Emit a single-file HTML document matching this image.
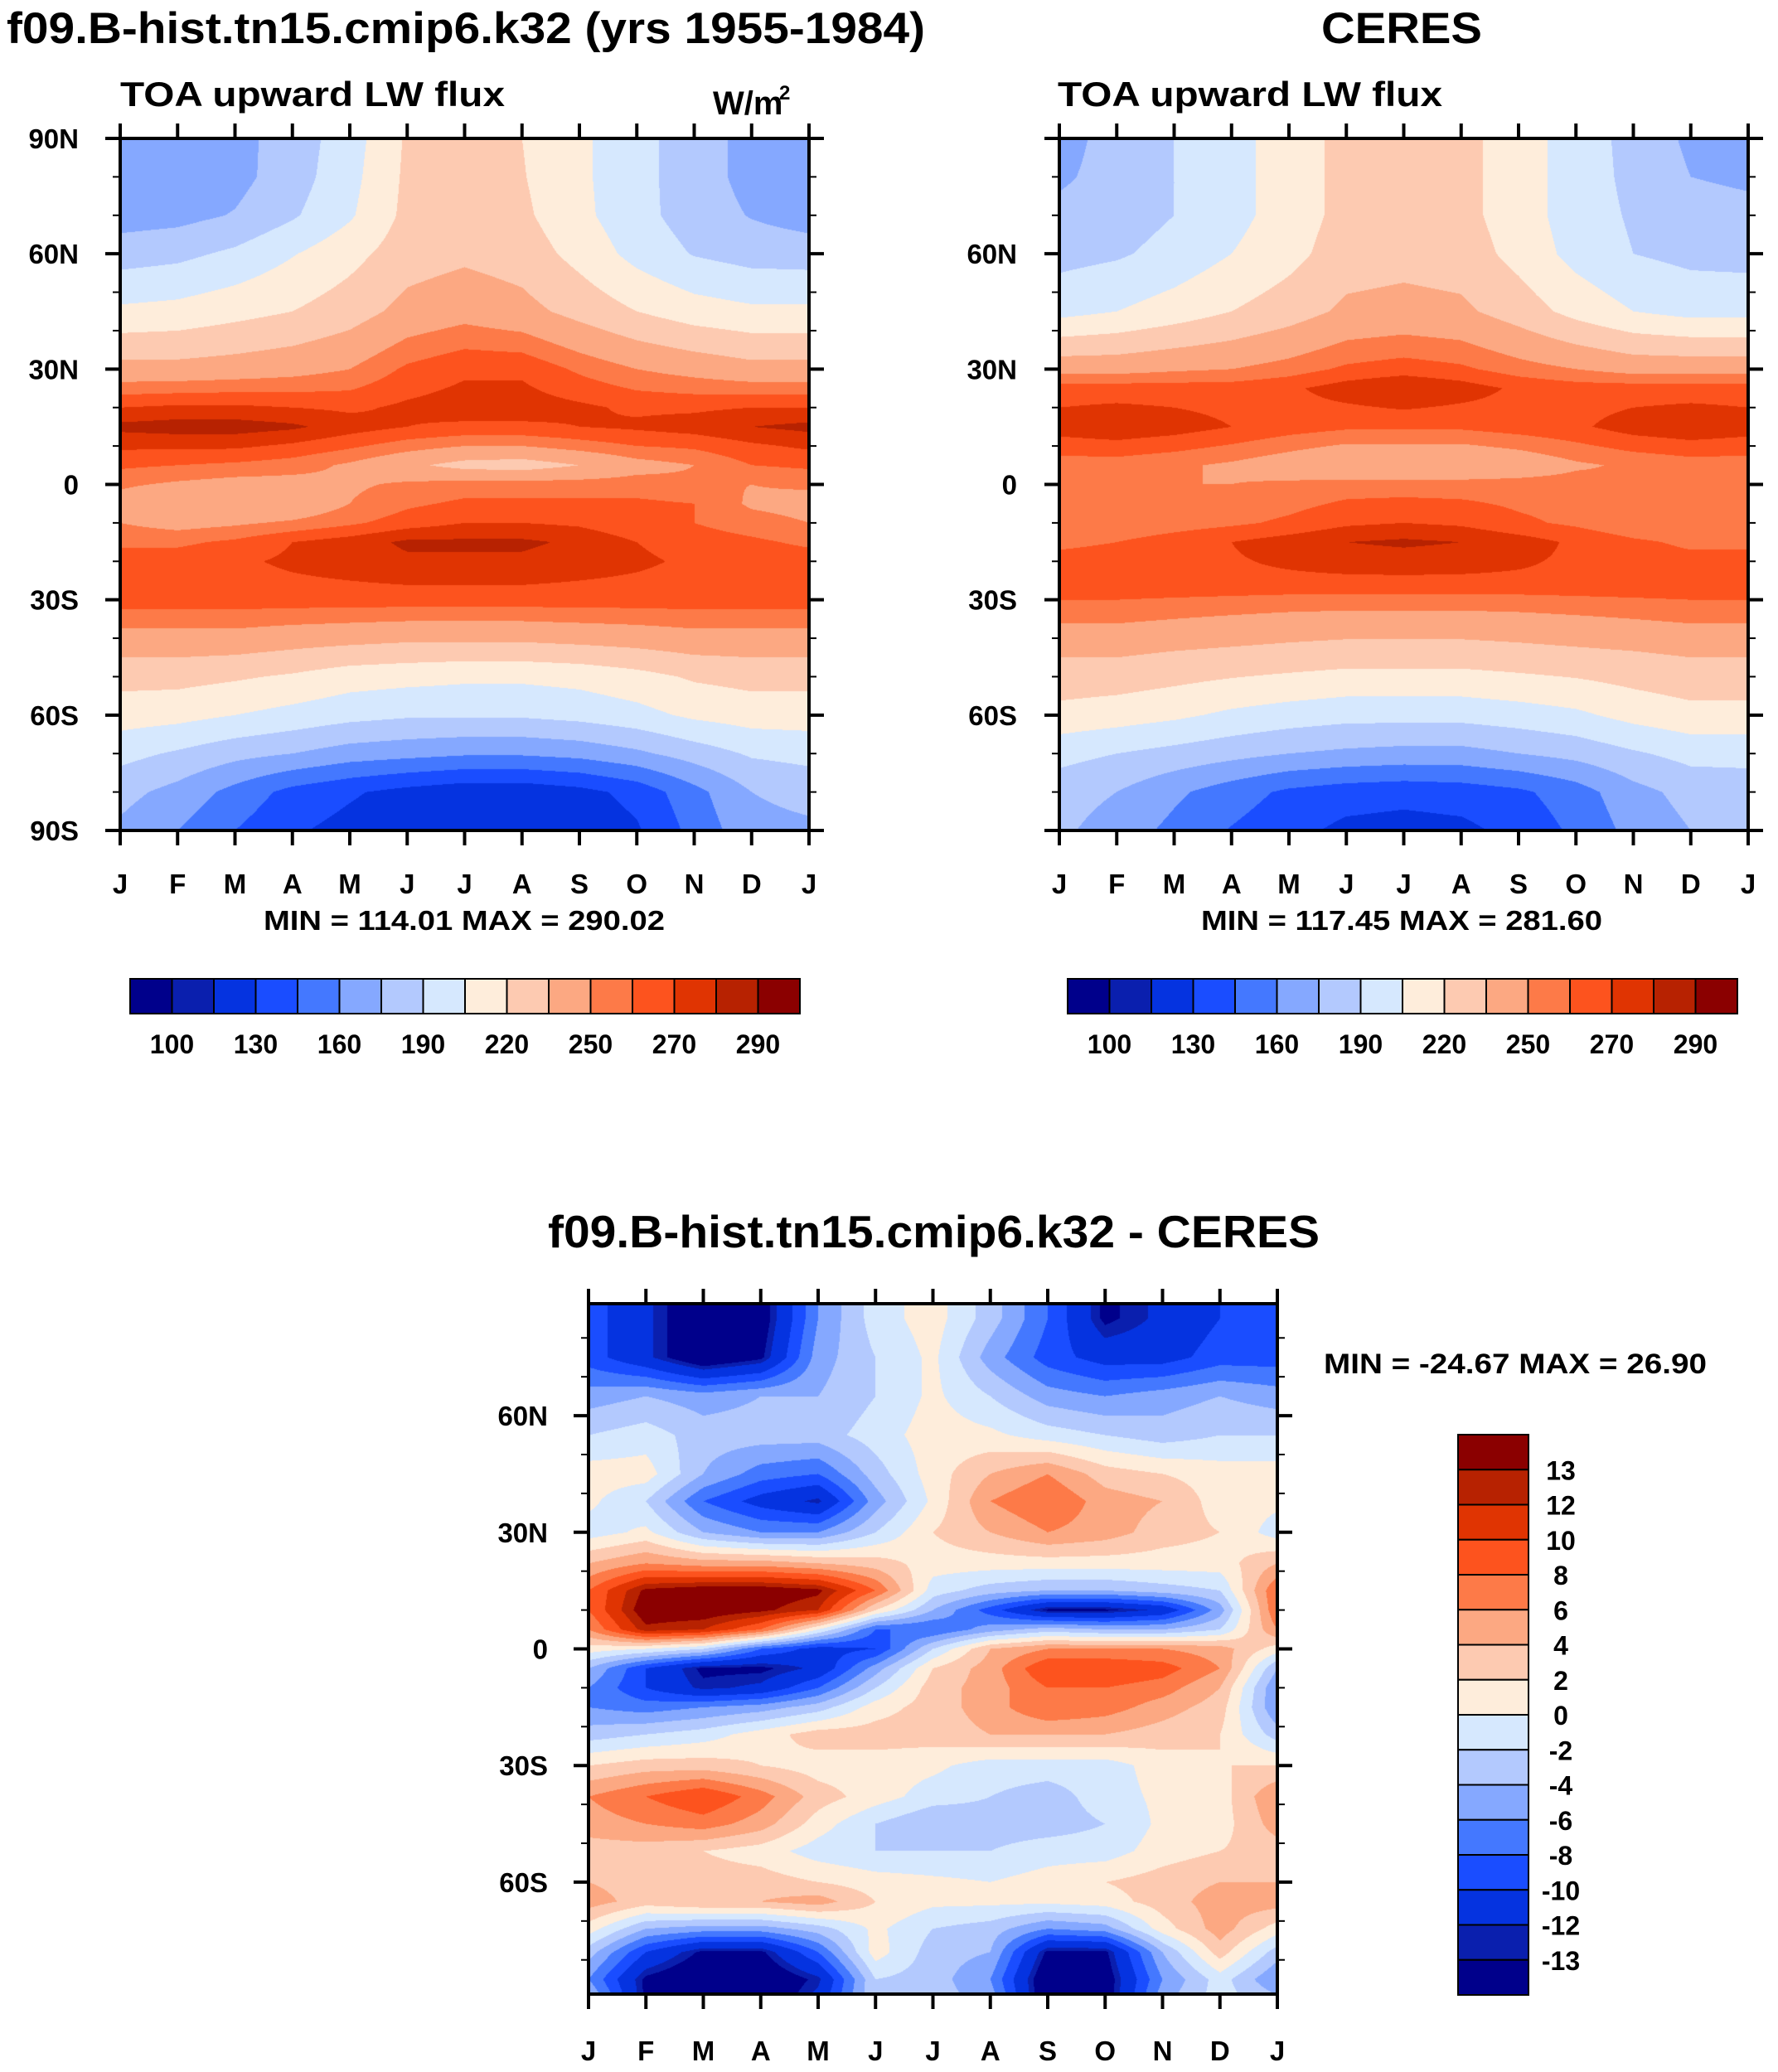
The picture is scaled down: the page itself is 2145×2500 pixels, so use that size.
<!DOCTYPE html>
<html><head><meta charset="utf-8">
<style>
html,body{margin:0;padding:0;background:#fff;}
#wrap{position:relative;width:2145px;height:2500px;overflow:hidden;}
canvas{position:absolute;}
svg{position:absolute;left:0;top:0;}
text{font-family:"Liberation Sans",sans-serif;font-weight:bold;fill:#000;}
</style></head>
<body>
<div id="wrap">
<canvas id="c1"></canvas>
<canvas id="c2"></canvas>
<canvas id="c3"></canvas>
<svg id="ov" width="2145" height="2500"></svg>
</div>
<script>
// ---------- data ----------
const months = ["J","F","M","A","M","J","J","A","S","O","N","D","J"];
const absLevels = [100,115,130,145,160,175,190,205,220,235,250,260,270,280,290];
const absLabels = ["100","130","160","190","220","250","270","290"];
const diffLevels = [-13.5,-12.5,-10,-8,-6,-4,-2,0,2,4,6,8,10,12,13.5];
const diffLabels = ["-13","-12","-10","-8","-6","-4","-2","0","2","4","6","8","10","12","13"];
const colors = ["#00008b","#0a1fae","#0533e0","#1a4dff","#4478ff","#85a8ff","#b3c9fe","#d6e8fe",
                "#feeddb","#fdcab1","#fca882","#fd7a48","#fd531e","#e03402","#b72201","#8b0000"];
const lats1 = [90,80,70,60,45,30,20,15,10,5,0,-5,-10,-15,-20,-30,-40,-50,-60,-70,-80,-90];
const model = [
[166,166,170,182,198,222,222,220,208,195,182,170,166],
[166,166,170,183,200,223,224,221,208,195,182,170,166],
[168,170,176,188,203,224,226,223,209,195,183,174,168],
[183,186,193,204,215,228,232,228,215,200,189,184,183],
[208,210,215,220,228,240,245,240,230,220,212,208,208],
[240,240,242,245,250,262,268,268,258,250,245,240,240],
[270,272,272,270,268,272,275,275,272,268,268,270,270],
[283,285,285,282,275,270,268,268,270,272,275,280,283],
[272,272,272,268,262,255,250,250,255,260,262,268,272],
[262,260,258,255,248,238,230,228,235,245,250,260,262],
[252,248,245,245,248,252,255,255,255,255,252,250,252],
[245,235,235,238,250,258,262,262,262,262,260,248,245],
[250,245,248,252,258,265,270,270,268,262,260,255,250],
[258,258,262,270,275,282,282,282,278,270,265,262,258],
[265,265,268,272,275,278,278,278,275,272,268,266,265],
[265,265,265,265,265,265,265,265,265,265,265,265,265],
[245,245,245,242,240,238,238,238,240,242,245,245,245],
[225,225,222,218,212,210,208,208,210,215,222,225,225],
[212,210,205,200,195,192,192,192,195,200,208,212,212],
[195,188,180,175,168,165,162,162,165,172,182,192,195],
[180,170,155,140,132,125,120,120,125,135,155,175,180],
[172,160,145,132,125,118,115,115,118,128,150,170,172]];
const lats2 = [90,80,70,60,45,30,25,15,5,0,-10,-15,-25,-35,-45,-60,-70,-80,-90];
const ceres = [
[168,182,190,200,212,225,225,225,212,198,185,172,168],
[172,182,190,200,212,225,225,225,212,198,186,175,172],
[180,183,190,200,212,225,226,225,212,198,188,182,180],
[185,188,195,205,215,228,230,228,215,200,190,186,185],
[200,205,212,220,228,238,240,238,228,215,205,200,200],
[245,245,248,250,255,262,265,262,255,250,245,245,245],
[265,265,265,265,268,275,280,275,268,265,265,265,265],
[275,278,275,270,265,262,262,262,265,268,275,278,275],
[255,255,252,248,242,235,235,235,240,248,252,255,255],
[252,250,250,250,252,255,255,255,255,255,252,252,252],
[250,252,255,258,262,268,270,268,262,258,252,250,250],
[258,260,265,270,275,280,282,280,275,268,262,258,258],
[268,268,268,268,268,268,268,268,268,268,268,268,268],
[252,252,250,248,246,245,245,245,246,248,250,252,252],
[235,235,232,230,228,226,226,226,228,230,232,235,235],
[215,212,208,202,198,195,195,195,198,202,210,215,215],
[195,190,185,180,175,172,170,170,175,180,188,195,195],
[182,175,163,152,142,137,135,137,142,153,170,180,182],
[178,168,156,144,135,126,124,126,135,148,165,175,178]];
const lats3 = [89,85,75,65,55,45,38,30,22,15,10,5,0,-5,-10,-15,-22,-30,-38,-45,-52,-60,-65,-72,-78,-85,-89];
const diff = [
[-9,-12,-16,-15,-6,-1,1,-3,-8,-14,-12,-10,-9],
[-9,-12,-16,-15,-6,-1,1,-3,-8,-14,-12,-10,-9],
[-9,-12,-16,-14,-5,-2,0.5,-5,-9,-11,-11,-9,-9],
[-5,-4,-5,-4,-4,-2,0.5,-2,-5,-6,-5,-4,-5],
[-2,-1,-3,-3,-3,-1,1,0.5,-1,-2,-3,-2,-2],
[1,1,-4,-7,-8,-3,1,4,6,3,2,1,1],
[0.5,-2,-8,-11,-13,-5,0.5,6,8,5,4,1,0.5],
[-1,0.5,-4,-6,-6,-2,2,4,6,5,3,2,-1],
[4,6,5,5,4,3,1,1,1,1,1,1,4],
[8,14,15,15,14,8,-1,-3,-4,-4,-3,-2,8],
[8,15,15,14,12,2,-4,-9,-14,-14,-12,-5,8],
[6,13,12,8,0,-8,-8,-5,-3,-4,-4,-2,6],
[1,0,-2,-8,-11,-10,-2,4,6,6,6,5,1],
[-4,-10,-14,-14,-12,-5,2,5,10,10,9,6,-4],
[-6,-10,-13,-12,-8,-2,3,5,8,8,7,4,-6],
[-6,-7,-6,-5,-3,1,3,5,8,7,5,3,-6],
[-3,-2,-1,1,3,3,3,4,4,4,3,2,-3],
[2,3,3,2,1,1,0.5,-1,-1,-1,1,2,2],
[6,8,10,7,3,1,-1,-2,-3,-1,0.5,1,6],
[5,6,7,5,1,-2,-4,-3,-3,-2,0.5,1,5],
[3,3,2,1,-1,-2,-2,-2,-1,-1,1,2,3],
[4,3,3,3,2,1,0.5,0,1,2,3,4,4],
[5,3,4,4,5,2,0.5,0.5,0.5,1,3,5,5],
[1,-4,-5,-5,-3,0.5,-2,-3,-6,-5,1,5,1],
[-3,-10,-14,-14,-8,1,-3,-4,-14,-14,-4,3,-3],
[-6,-14,-16,-16,-13,-2,-3,-6,-16,-15,-6,-1,-6],
[-4,-14,-16,-16,-12,-2,-3,-5,-16,-15,-5,-1,-4]];

// ---------- rendering ----------
function hex(c){return [parseInt(c.substr(1,2),16),parseInt(c.substr(3,2),16),parseInt(c.substr(5,2),16)];}
const rgb = colors.map(hex);
function levelIndex(v,levels){let i=0;while(i<levels.length&&v>=levels[i])i++;return i;}
function sample(lats,grid,latv,mv){
  let r=0;
  if(latv>=lats[0]) r=0; else if(latv<=lats[lats.length-1]) r=lats.length-2;
  else {while(r<lats.length-2 && !(latv<=lats[r]&&latv>=lats[r+1]))r++;}
  let ty=(lats[r]-latv)/(lats[r]-lats[r+1]); ty=Math.max(0,Math.min(1,ty));
  let c=Math.min(11,Math.floor(mv)); let tx=mv-c;
  const a=grid[r][c],b=grid[r][c+1],d=grid[r+1][c],e=grid[r+1][c+1];
  return (a*(1-tx)+b*tx)*(1-ty)+(d*(1-tx)+e*tx)*ty;
}
function drawField(id,x0,y0,w,h,latTop,latBot,lats,grid,levels){
  const cv=document.getElementById(id);
  cv.width=w;cv.height=h;cv.style.left=x0+'px';cv.style.top=y0+'px';
  const ctx=cv.getContext('2d');const img=ctx.createImageData(w,h);
  for(let py=0;py<h;py++){
    const latv=latTop-(latTop-latBot)*(py+0.5)/h;
    for(let px=0;px<w;px++){
      const mv=12*(px+0.5)/w;
      const v=sample(lats,grid,latv,mv);
      const col=rgb[levelIndex(v,levels)];
      const k=(py*w+px)*4;
      img.data[k]=col[0];img.data[k+1]=col[1];img.data[k+2]=col[2];img.data[k+3]=255;
    }
  }
  ctx.putImageData(img,0,0);
}
const P1={x:145,y:167,w:831,h:835,top:90,bot:-90};
const P2={x:1278,y:167,w:831,h:835,top:90,bot:-90};
const P3={x:710,y:1573,w:831,h:833,top:88.8,bot:-88.8};
drawField('c1',P1.x,P1.y,P1.w,P1.h,P1.top,P1.bot,lats1,model,absLevels);
drawField('c2',P2.x,P2.y,P2.w,P2.h,P2.top,P2.bot,lats2,ceres,absLevels);
drawField('c3',P3.x,P3.y,P3.w,P3.h,P3.top,P3.bot,lats3,diff,diffLevels);

// ---------- annotations ----------
const NS='http://www.w3.org/2000/svg';
const ov=document.getElementById('ov');
function el(tag,attrs,parent){const e=document.createElementNS(NS,tag);for(const k in attrs)e.setAttribute(k,attrs[k]);(parent||ov).appendChild(e);return e;}
function txt(s,x,y,size,anchor,len,name){
  const t=el('text',{x:x,y:y,'font-size':size,'text-anchor':anchor||'start'});
  if(len){t.setAttribute('textLength',len);t.setAttribute('lengthAdjust','spacingAndGlyphs');}
  t.textContent=s;
  
  
  return t;
}
function axes(P,latLabels,labelRight,monthBase,pfx){
  const g=el('g',{});
  
  
  el('rect',{x:P.x,y:P.y,width:P.w,height:P.h,fill:'none',stroke:'#000','stroke-width':4},g);
  const yOf=l=>P.y+(P.top-l)/(P.top-P.bot)*P.h;
  for(let m=0;m<=12;m++){
    const x=P.x+P.w*m/12;
    el('line',{x1:x,y1:P.y,x2:x,y2:P.y-18,stroke:'#000','stroke-width':4},g);
    el('line',{x1:x,y1:P.y+P.h,x2:x,y2:P.y+P.h+18,stroke:'#000','stroke-width':4},g);
    txt(months[m],x,monthBase,33,'middle',null,pfx+'-month-label');
  }
  for(let l=-80;l<=80;l+=10){
    if(l>P.top||l<P.bot)continue;
    const y=yOf(l);const major=(l%30===0);const L=major?18:9;
    el('line',{x1:P.x,y1:y,x2:P.x-L,y2:y,stroke:'#000','stroke-width':major?4:2},g);
    el('line',{x1:P.x+P.w,y1:y,x2:P.x+P.w+L,y2:y,stroke:'#000','stroke-width':major?4:2},g);
  }
  if(P.top>=90){for(const l of [90,-90]){const y=yOf(l);
    el('line',{x1:P.x,y1:y,x2:P.x-18,y2:y,stroke:'#000','stroke-width':4},g);
    el('line',{x1:P.x+P.w,y1:y,x2:P.x+P.w+18,y2:y,stroke:'#000','stroke-width':4},g);}}
  for(const [lab,l] of latLabels){txt(lab,labelRight,yOf(l)+12,33,'end',null,pfx+'-lat-label');}
}
function hbar(x0,y0,w,h,labels,pfx){
  const bw=w/16;
  for(let i=0;i<16;i++){
    const r=el('rect',{x:x0+i*bw,y:y0,width:bw,height:h,fill:colors[i],stroke:'#000','stroke-width':2});
    
    
  }
  labels.forEach((s,j)=>txt(s,x0+(2*j+1)*bw,y0+h+48,32,'middle',null,pfx+'-colorbar-label'));
}
// panel 1
txt("f09.B-hist.tn15.cmip6.k32 (yrs 1955-1984)",8,52,53,'start',1108,'model-panel-title');
txt("TOA upward LW flux",145,128,42,'start',464,'model-variable-title');
txt("W/m",860,138,40,'start',null,'units-label');
txt("2",940,120,24,'start',null,'units-superscript');
axes(P1,[["90N",90],["60N",60],["30N",30],["0",0],["30S",-30],["60S",-60],["90S",-90]],95,1078,'model');
txt("MIN = 114.01 MAX = 290.02",318,1122,33,'start',484,'model-min-max');
hbar(157,1181,808,42,absLabels,'model');
// panel 2
txt("CERES",1594,52,53,'start',194,'ceres-panel-title');
txt("TOA upward LW flux",1276,128,42,'start',464,'ceres-variable-title');
axes(P2,[["60N",60],["30N",30],["0",0],["30S",-30],["60S",-60]],1227,1078,'ceres');
txt("MIN = 117.45 MAX = 281.60",1449,1122,33,'start',484,'ceres-min-max');
hbar(1288,1181,808,42,absLabels,'ceres');
// panel 3
txt("f09.B-hist.tn15.cmip6.k32 - CERES",661,1505,55,'start',931,'difference-title');
axes(P3,[["60N",60],["30N",30],["0",0],["30S",-30],["60S",-60]],661,2486,'difference');
txt("MIN = -24.67 MAX =  26.90",1597,1657,34,'start',462,'difference-min-max');
(function(){
  const x0=1759,y0=1731,w=85,h=676,bh=h/16;
  for(let i=0;i<16;i++){
    const r=el('rect',{x:x0,y:y0+i*bh,width:w,height:bh,fill:colors[15-i],stroke:'#000','stroke-width':2});
    
    
  }
  const rev=diffLabels.slice().reverse();
  rev.forEach((s,j)=>txt(s,1883,y0+(j+1)*bh+12,32,'middle',null,'difference-colorbar-label'));
})();
</script>
</body></html>
